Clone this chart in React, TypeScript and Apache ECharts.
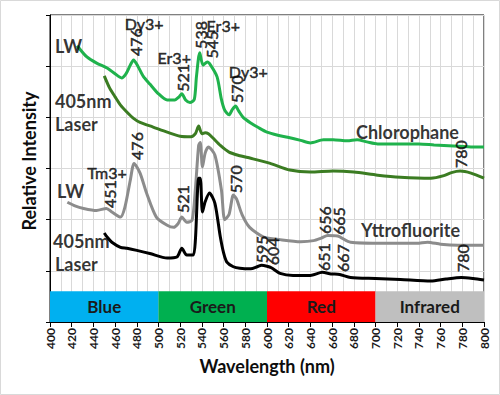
import React, { useEffect, useRef } from "react";
import * as echarts from "echarts";

// Chlorophane, long-wave UV
const chlLwNm = [425, 434, 443, 453, 460, 466, 470, 474, 477, 481, 486, 492, 499, 508, 515, 519, 521.5, 525, 529, 533, 535, 538, 541, 545, 548, 554, 558, 561, 565, 568, 571, 574, 578, 585, 592, 600, 610, 619, 631, 640, 652, 661, 674, 683, 692, 702, 723, 740, 754, 772, 790, 800];
const chlLwVal = [5.40, 5.18, 5.06, 4.96, 4.85, 4.77, 4.85, 5.02, 5.12, 5.00, 4.80, 4.65, 4.48, 4.34, 4.34, 4.40, 4.46, 4.34, 4.29, 4.35, 4.80, 5.26, 5.02, 5.08, 5.02, 4.79, 4.35, 4.14, 4.05, 4.15, 4.22, 4.12, 4.00, 3.89, 3.80, 3.71, 3.65, 3.61, 3.55, 3.50, 3.56, 3.56, 3.54, 3.56, 3.52, 3.48, 3.48, 3.48, 3.46, 3.44, 3.42, 3.42];

// Chlorophane, 405nm laser
const chlLaserNm = [450, 455, 460, 465, 471, 477, 483, 495, 508, 520, 530, 534, 537, 540, 543, 546, 550, 557, 565, 575, 585, 603, 621, 640, 661, 680, 702, 723, 751, 763, 770, 778, 788, 800];
const chlLaserVal = [4.81, 4.57, 4.40, 4.24, 4.10, 3.98, 3.90, 3.81, 3.71, 3.63, 3.62, 3.68, 3.83, 3.68, 3.70, 3.68, 3.60, 3.45, 3.32, 3.25, 3.20, 3.10, 2.97, 2.93, 2.95, 2.93, 2.87, 2.83, 2.81, 2.86, 2.92, 2.95, 2.91, 2.81];

// Yttrofluorite, long-wave UV
const ytLwNm = [416, 423, 431, 443, 452, 457, 465, 469, 474, 477.5, 483, 489, 498, 508, 514, 518, 521.5, 526, 531, 534, 537, 538.5, 540.5, 543, 546, 552, 558, 561, 565, 569, 572, 577, 584, 597, 612, 631, 643, 650, 656, 665, 677, 708, 738, 748, 760, 776, 800];
const ytLwVal = [2.34, 2.27, 2.22, 2.18, 2.22, 2.15, 2.05, 2.24, 2.77, 3.10, 2.91, 2.52, 2.05, 1.89, 1.85, 1.92, 2.05, 1.95, 1.99, 2.60, 3.45, 3.51, 3.03, 3.30, 3.42, 3.26, 2.58, 2.00, 2.10, 2.48, 2.40, 2.10, 1.85, 1.66, 1.61, 1.57, 1.59, 1.64, 1.69, 1.68, 1.56, 1.54, 1.54, 1.56, 1.52, 1.50, 1.50];

// Yttrofluorite, 405nm laser
const ytLaserNm = [450, 453, 457, 465, 471, 480, 492, 508, 517, 521.5, 526, 532, 534, 537, 538.5, 540.5, 543, 547, 552, 557, 560, 563, 569, 575, 585, 591, 595, 600, 604, 612, 624, 640, 651, 659, 667, 677, 700, 723, 751, 765, 779, 790, 800];
const ytLaserVal = [1.74, 1.65, 1.56, 1.46, 1.44, 1.40, 1.34, 1.25, 1.27, 1.44, 1.31, 1.31, 1.60, 2.81, 2.81, 2.15, 2.35, 2.52, 2.32, 1.66, 1.35, 1.17, 1.08, 1.05, 1.04, 1.08, 1.11, 1.09, 1.06, 0.95, 0.91, 0.91, 0.97, 0.94, 0.93, 0.87, 0.85, 0.83, 0.80, 0.84, 0.87, 0.85, 0.82];

// Spectral bands
const bandNames = ["Blue", "Green", "Red", "Infrared"];
const bandStart = [400, 500, 600, 700];
const bandEnd = [500, 600, 700, 800];
const bandTop = 0.6;

// Vertical peak labels (data coordinates)
const peakText = ["476", "521", "538", "545", "570", "780", "476", "451", "521", "570", "656", "665", "595", "604", "651", "667", "780"];
const peakNm = [478.5, 521.8, 538.5, 548.6, 571.7, 778.5, 479.4, 454.5, 521.8, 570.8, 652.9, 665.8, 594.8, 604.9, 652.0, 669.5, 780.3];
const peakVal = [5.47, 4.77, 5.61, 5.42, 4.55, 3.28, 3.44, 2.50, 2.40, 2.79, 1.99, 1.97, 1.42, 1.38, 1.27, 1.25, 1.25];

// Horizontal ion labels (centered)
const ionText = ["Dy3+", "Er3+", "Er3+", "Dy3+", "Tm3+"];
const ionNm = [486.8, 514.5, 559.7, 582.8, 452.6];
const ionVal = [5.83, 5.16, 5.79, 4.89, 2.93];

// Source labels (left-aligned)
const srcText = ["LW", "405nm", "Laser", "LW", "405nm", "Laser"];
const srcNm = [404.6, 404.6, 404.6, 406.5, 402.8, 404.6];
const srcVal = [5.40, 4.31, 3.87, 2.56, 1.58, 1.13];

const mineralText = ["Chlorophane", "Yttrofluorite"];
const mineralNm = [729.5, 732.3];
const mineralVal = [3.71, 1.80];

const FONT = "Lato, 'Liberation Sans', Arial, sans-serif";

function pairs(xs: number[], ys: number[]) {
  return xs.map((x, i) => [x, ys[i]]);
}

export default function App() {
  const ref = useRef<HTMLDivElement>(null);
  useEffect(() => {
    if (!ref.current) return;
    const chart = echarts.init(ref.current, undefined, { renderer: "svg" });
    const bandColors = ["#00b0f0", "#00b050", "#ff0000", "#bfbfbf"];
    const lineSeries = (name: string, xs: number[], ys: number[], color: string) => ({
      type: "line",
      name,
      data: pairs(xs, ys),
      showSymbol: false,
      smooth: 0.25,
      lineStyle: { color, width: 3 },
      z: 3,
    });
    const textSeries = (
      texts: string[],
      xs: number[],
      ys: number[],
      label: any
    ) => ({
      type: "scatter",
      symbolSize: 0,
      z: 5,
      silent: true,
      data: texts.map((t, i) => ({ value: [xs[i], ys[i]], name: t })),
      label: {
        show: true,
        formatter: (p: any) => p.name,
        color: "#000",
        fontFamily: FONT,
        ...label,
      },
    });
    chart.setOption({
      animation: false,
      textStyle: { fontFamily: FONT },
      grid: {
        left: 50,
        right: 16,
        top: 15,
        bottom: 73,
        show: true,
        borderColor: "#000",
        borderWidth: 1,
        backgroundColor: "transparent",
      },
      xAxis: {
        type: "value",
        min: 400,
        max: 800,
        interval: 20,
        axisLine: { lineStyle: { color: "#000", width: 1 } },
        axisTick: { show: true, length: 5, lineStyle: { color: "#000" } },
        axisLabel: {
          rotate: 90,
          fontSize: 12,
          fontWeight: "bold",
          color: "#1a1a1a",
          margin: 6,
          fontFamily: FONT,
        },
        splitLine: { show: true, lineStyle: { color: "#d9d9d9" } },
        minorTick: { show: false, splitNumber: 2 },
        minorSplitLine: { show: true, lineStyle: { color: "#d9d9d9" } },
      },
      yAxis: {
        type: "value",
        min: 0,
        max: 6,
        interval: 1,
        axisLine: { show: true, lineStyle: { color: "#000" } },
        axisTick: { show: true, length: 4, lineStyle: { color: "#000" } },
        axisLabel: { show: false },
        splitLine: { show: true, lineStyle: { color: "#d9d9d9" } },
      },
      graphic: [
        {
          type: "rect",
          shape: { x: 0.5, y: 0.5, width: 499, height: 394 },
          style: { fill: "none", stroke: "#d9d9d9", lineWidth: 1 },
          silent: true,
        },
        {
          type: "text",
          x: 29,
          y: 161,
          rotation: Math.PI / 2,
          style: {
            text: "Relative Intensity",
            fontSize: 18,
            fontWeight: "bold",
            fontFamily: FONT,
            fill: "#0d0d0d",
            align: "center",
            verticalAlign: "middle",
          },
        },
        {
          type: "text",
          x: 267,
          y: 366,
          style: {
            text: "Wavelength (nm)",
            fontSize: 18,
            fontWeight: "bold",
            fontFamily: FONT,
            fill: "#0d0d0d",
            align: "center",
            verticalAlign: "middle",
          },
        },
      ],
      series: [
        {
          type: "line",
          data: [],
          z: 2,
          markArea: {
            silent: true,
            data: bandNames.map((n, i) => [
              {
                name: n,
                xAxis: bandStart[i],
                yAxis: 0,
                itemStyle: { color: bandColors[i], opacity: 1 },
              },
              { xAxis: bandEnd[i], yAxis: bandTop },
            ]),
            label: {
              show: true,
              position: "inside",
              fontSize: 17,
              fontWeight: "bold",
              color: "#1a1a1a",
              fontFamily: FONT,
            },
          },
        },
        lineSeries("Chlorophane LW", chlLwNm, chlLwVal, "#1fb24c"),
        lineSeries("Chlorophane 405nm Laser", chlLaserNm, chlLaserVal, "#3b7c22"),
        lineSeries("Yttrofluorite LW", ytLwNm, ytLwVal, "#8c8c8c"),
        lineSeries("Yttrofluorite 405nm Laser", ytLaserNm, ytLaserVal, "#000000"),
        textSeries(peakText, peakNm, peakVal, {
          position: "inside",
          rotate: 90,
          fontSize: 16,
          textBorderColor: "#000",
          textBorderWidth: 0.5,
        }),
        textSeries(ionText, ionNm, ionVal, {
          position: "inside",
          fontSize: 16,
          textBorderColor: "#000",
          textBorderWidth: 0.5,
        }),
        textSeries(srcText, srcNm, srcVal, {
          position: "right",
          distance: 0,
          fontSize: 18,
          fontWeight: "bold",
        }),
        textSeries(mineralText, mineralNm, mineralVal, {
          position: "inside",
          fontSize: 18,
          fontWeight: "bold",
        }),
      ],
    });
    return () => chart.dispose();
  }, []);
  return (
    <div
      ref={ref}
      style={{ position: "absolute", left: 0, top: 0, width: 500, height: 395 }}
    />
  );
}
